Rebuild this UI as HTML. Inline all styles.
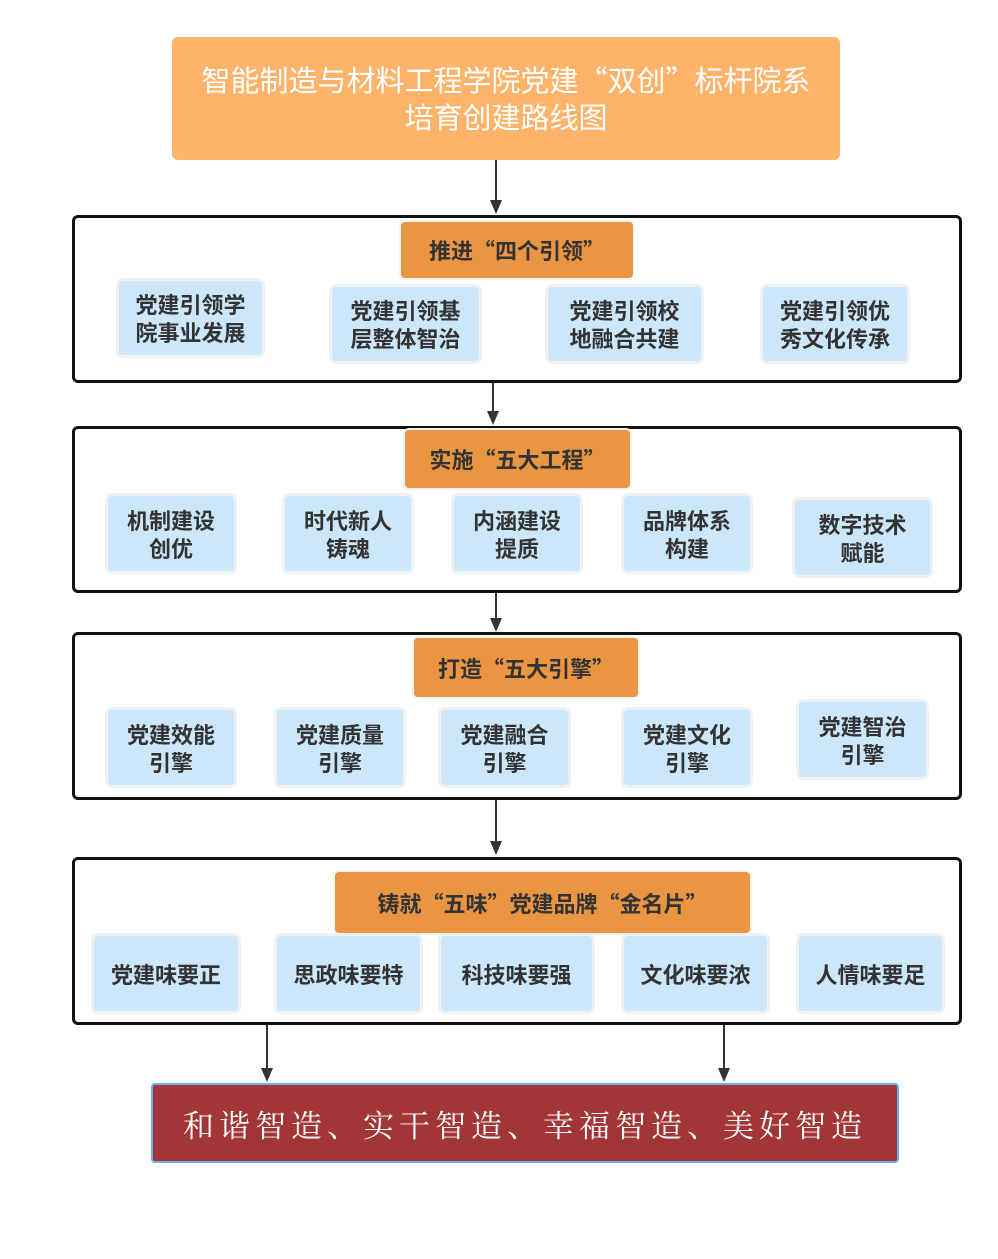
<!DOCTYPE html>
<html><head><meta charset="utf-8"><style>
body{margin:0;background:#fff;width:998px;height:1259px;position:relative;overflow:hidden;font-family:"Noto Sans CJK SC","Liberation Sans",sans-serif}
.a{position:absolute;box-sizing:border-box}
.title{left:172px;top:37px;width:668px;height:123px;background:#FDB46A;border-radius:6px;color:#fff;font-size:29px;line-height:37px;text-align:center;padding-top:24px}
.sec{left:72px;width:890px;border:3px solid #111;border-radius:6px;background:#fff}
.hd{background:#EA9542;border-radius:4px;color:#333;font-weight:bold;font-size:22px;display:flex;align-items:center;justify-content:center;box-shadow:0 0 0 2px #f3f3f3}
.it{background:#CCE6FA;border-radius:4px;color:#333;font-weight:bold;font-size:22px;line-height:28px;display:flex;align-items:center;justify-content:center;text-align:center;box-shadow:0 0 0 3px #eef2f5}
.ln{width:2px;background:#333}
.ar{width:0;height:0;border-left:6px solid transparent;border-right:6px solid transparent;border-top:14px solid #333}
.bot{left:151px;top:1083px;width:748px;height:80px;background:#A23535;border:2px solid #6AB0F0;border-radius:4px;color:#fff;font-family:"Noto Serif CJK SC","Liberation Serif",serif;font-size:31px;letter-spacing:5px;display:flex;align-items:center;justify-content:center}
</style></head><body>
<div class="a title">智能制造与材料工程学院党建“双创”标杆院系<br>培育创建路线图</div>

<div class="a ln" style="left:495px;top:160px;height:42px"></div><div class="a ar" style="left:490px;top:200px"></div>
<div class="a sec" style="top:215px;height:168px"></div>
<div class="a hd" style="left:401px;top:222px;width:232px;height:56px">推进“四个引领”</div>
<div class="a it" style="left:119px;top:281px;width:143px;height:74px">党建引领学<br>院事业发展</div>
<div class="a it" style="left:332px;top:287px;width:147px;height:74px">党建引领基<br>层整体智治</div>
<div class="a it" style="left:548px;top:287px;width:153px;height:74px">党建引领校<br>地融合共建</div>
<div class="a it" style="left:763px;top:287px;width:144px;height:74px">党建引领优<br>秀文化传承</div>

<div class="a ln" style="left:492px;top:383px;height:30px"></div><div class="a ar" style="left:487px;top:411px"></div>
<div class="a sec" style="top:426px;height:167px"></div>
<div class="a hd" style="left:405px;top:430px;width:225px;height:58px">实施“五大工程”</div>
<div class="a it" style="left:108px;top:496px;width:126px;height:75px">机制建设<br>创优</div>
<div class="a it" style="left:285px;top:496px;width:126px;height:75px">时代新人<br>铸魂</div>
<div class="a it" style="left:454px;top:496px;width:126px;height:75px">内涵建设<br>提质</div>
<div class="a it" style="left:624px;top:496px;width:126px;height:75px">品牌体系<br>构建</div>
<div class="a it" style="left:795px;top:500px;width:135px;height:75px">数字技术<br>赋能</div>

<div class="a ln" style="left:495px;top:593px;height:27px"></div><div class="a ar" style="left:490px;top:618px"></div>
<div class="a sec" style="top:632px;height:168px"></div>
<div class="a hd" style="left:414px;top:638px;width:224px;height:59px">打造“五大引擎”</div>
<div class="a it" style="left:108px;top:710px;width:126px;height:75px">党建效能<br>引擎</div>
<div class="a it" style="left:277px;top:710px;width:126px;height:75px">党建质量<br>引擎</div>
<div class="a it" style="left:441px;top:710px;width:127px;height:75px">党建融合<br>引擎</div>
<div class="a it" style="left:624px;top:710px;width:126px;height:75px">党建文化<br>引擎</div>
<div class="a it" style="left:799px;top:702px;width:127px;height:75px">党建智治<br>引擎</div>

<div class="a ln" style="left:495px;top:800px;height:43px"></div><div class="a ar" style="left:490px;top:841px"></div>
<div class="a sec" style="top:857px;height:168px"></div>
<div class="a hd" style="left:335px;top:872px;width:415px;height:61px">铸就“五味”党建品牌“金名片”</div>
<div class="a it" style="left:94px;top:936px;width:144px;height:75px">党建味要正</div>
<div class="a it" style="left:277px;top:936px;width:143px;height:75px">思政味要特</div>
<div class="a it" style="left:441px;top:936px;width:151px;height:75px">科技味要强</div>
<div class="a it" style="left:624px;top:936px;width:143px;height:75px">文化味要浓</div>
<div class="a it" style="left:799px;top:936px;width:143px;height:75px">人情味要足</div>

<div class="a ln" style="left:266px;top:1025px;height:45px"></div><div class="a ar" style="left:261px;top:1068px"></div>
<div class="a ln" style="left:723px;top:1025px;height:45px"></div><div class="a ar" style="left:718px;top:1068px"></div>
<div class="a bot">和谐智造、实干智造、幸福智造、美好智造</div>
</body></html>
